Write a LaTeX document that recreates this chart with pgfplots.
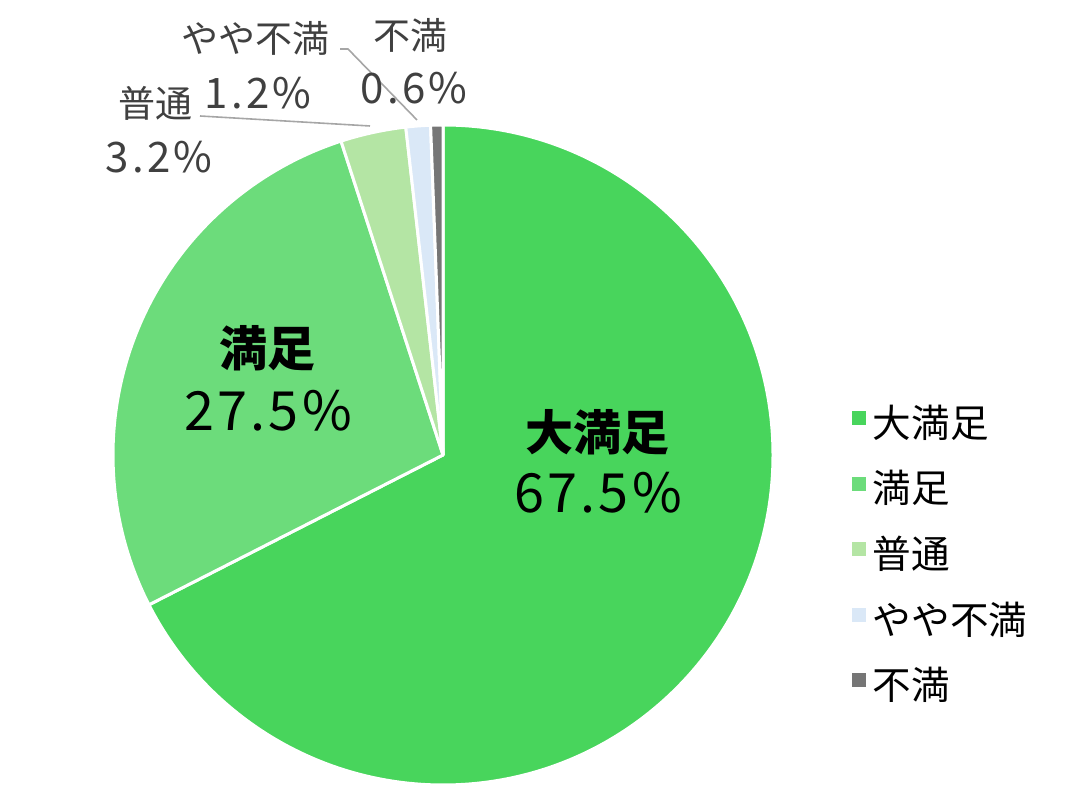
\documentclass[border=0pt]{standalone}
\usepackage{pgfplots}
\usepackage{pgfplotstable}
\usepackage{fontspec}
\pgfplotsset{compat=1.18}
\setmainfont{Noto Sans CJK JP}
\newfontfamily\numfont[LetterSpace=6]{Noto Sans CJK JP}
\newfontfamily\numfontwide[LetterSpace=8]{Noto Sans CJK JP}

\definecolor{c1}{HTML}{48D55C}
\definecolor{c2}{HTML}{6CDC7B}
\definecolor{c3}{HTML}{B4E5A4}
\definecolor{c4}{HTML}{DAE8F7}
\definecolor{c5}{HTML}{767676}
\definecolor{txt}{HTML}{404040}
\definecolor{lead}{HTML}{A6A6A6}

% share of answers, in percent
\pgfplotstableread[col sep=comma]{
label,value,color
大満足,67.5,c1
満足,27.5,c2
普通,3.2,c3
やや不満,1.2,c4
不満,0.6,c5
}\piedata

\begin{document}
\begin{tikzpicture}
\begin{axis}[
  width=540pt, height=403.5pt,
  scale only axis,
  xmin=0, xmax=1080, ymin=0, ymax=807,
  hide axis, clip=false,
  legend style={
    at={(axis cs:846,402)}, anchor=north west,
    draw=none, fill=none,
    font=\fontsize{19.3}{22}\selectfont,
    row sep=14.8pt,
    nodes={inner sep=0pt, text height=14pt, text depth=4pt},
  },
  legend cell align=left,
]
  \path (axis cs:0,0) rectangle (axis cs:1080,807);

  \pgfplotsextra{
    \xdef\cumangle{90}
    \pgfplotstablegetrowsof{\piedata}
    \pgfmathtruncatemacro\last{\pgfplotsretval-1}
    \foreach \i in {0,...,\last}{
      \pgfplotstablegetelem{\i}{value}\of\piedata
      \pgfmathsetmacro\endangle{\cumangle-3.6*\pgfplotsretval}
      \pgfplotstablegetelem{\i}{color}\of\piedata
      \edef\col{\pgfplotsretval}
      \fill[fill=\col, draw=white, line width=1.5pt, line join=round]
        (axis cs:443,352) -- ++(\cumangle:165pt)
        arc[start angle=\cumangle, end angle=\endangle, radius=165pt] -- cycle;
      \xdef\cumangle{\endangle}
    }
  }

  % leader lines
  \draw[lead, line width=0.8pt] (axis cs:200,691) -- (axis cs:370,681);
  \draw[lead, line width=0.8pt] (axis cs:340,758) -- (axis cs:348,758) -- (axis cs:417,687);

  % labels inside
  \node[font=\fontsize{24}{28}\selectfont\bfseries] at (axis cs:267,459) {満足};
  \node[font=\fontsize{27}{30}\numfont] at (axis cs:268,396) {27.5\%};
  \node[font=\fontsize{24}{28}\selectfont\bfseries] at (axis cs:597,375) {大満足};
  \node[font=\fontsize{27}{30}\numfont] at (axis cs:598,314) {67.5\%};

  % labels outside
  \begin{scope}[every node/.style={text=txt, font=\fontsize{18.5}{22}\selectfont}]
    \node at (axis cs:155,704) {普通};
    \node[font=\fontsize{21}{24}\numfontwide] at (axis cs:159,650) {3.2\%};
    \node at (axis cs:255,769) {やや不満};
    \node[font=\fontsize{21}{24}\numfontwide] at (axis cs:258,714) {1.2\%};
    \node at (axis cs:410,772) {不満};
    \node[font=\fontsize{21}{24}\numfontwide] at (axis cs:414,719) {0.6\%};
  \end{scope}

  \addlegendimage{legend image code/.code={\fill[c1] (0pt,1.5pt) rectangle (6.5pt,8pt); \path[draw=none] (0pt,4pt) -- (10pt,4pt);}}
  \addlegendentry{大満足}
  \addlegendimage{legend image code/.code={\fill[c2] (0pt,1.5pt) rectangle (6.5pt,8pt); \path[draw=none] (0pt,4pt) -- (10pt,4pt);}}
  \addlegendentry{満足}
  \addlegendimage{legend image code/.code={\fill[c3] (0pt,1.5pt) rectangle (6.5pt,8pt); \path[draw=none] (0pt,4pt) -- (10pt,4pt);}}
  \addlegendentry{普通}
  \addlegendimage{legend image code/.code={\fill[c4] (0pt,1.5pt) rectangle (6.5pt,8pt); \path[draw=none] (0pt,4pt) -- (10pt,4pt);}}
  \addlegendentry{やや不満}
  \addlegendimage{legend image code/.code={\fill[c5] (0pt,1.5pt) rectangle (6.5pt,8pt); \path[draw=none] (0pt,4pt) -- (10pt,4pt);}}
  \addlegendentry{不満}
\end{axis}
\end{tikzpicture}
\end{document}
